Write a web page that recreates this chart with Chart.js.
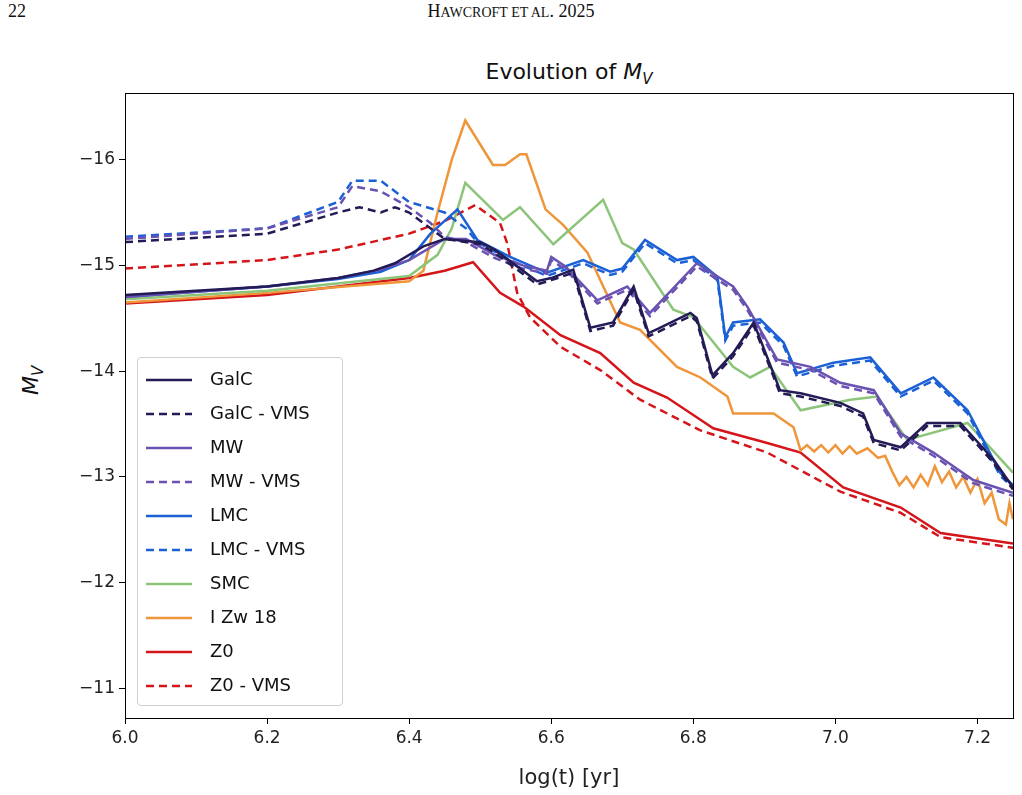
<!DOCTYPE html>
<html>
<head>
<meta charset="utf-8">
<script src="https://cdn.jsdelivr.net/npm/chart.js@4.4.0/dist/chart.umd.min.js"></script>
<style>
  body { margin: 0; background: #fff; width: 1022px; height: 795px; position: relative; overflow: hidden; }
  #wrap { position: absolute; left: 0; top: 0; width: 1022px; height: 795px; }
  .hdr { position: absolute; top: 1px; font-family: "Liberation Serif", "DejaVu Serif", serif; font-size: 18px; color: #111; }
  #title { position: absolute; top: 59px; left: 0; width: 1138px; text-align: center; font-family: "DejaVu Sans", sans-serif; font-size: 22px; color: #111; }
  #ytitle { position: absolute; left: 18px; top: 395px; transform: rotate(-90deg); transform-origin: left top; font-family: "DejaVu Sans", sans-serif; font-size: 22px; color: #111; }
  #legend { position: absolute; left: 137px; top: 357px; width: 204px; height: 347px; border: 1px solid #d0d0d0; border-radius: 4px; background: rgba(255,255,255,0.85); font-family: "DejaVu Sans", sans-serif; font-size: 18px; color: #111; }
  .item { position: absolute; left: 8px; height: 20px; }
  .item svg { position: absolute; left: 0; top: 0; }
  .item span { position: absolute; left: 64px; top: -2px; white-space: nowrap; }
</style>
</head>
<body>
<div class="hdr" style="left:8px;">22</div>
<div class="hdr" style="left:0;width:1022px;text-align:center;">H<span style="font-size:14px">AWCROFT ET AL</span>. 2025</div>
<div id="title">Evolution of <i>M</i><sub style="font-size:15px"><i>V</i></sub></div>
<div id="ytitle"><i>M</i><sub style="font-size:15px"><i>V</i></sub></div>
<div id="wrap"><canvas id="chart" width="1022" height="795"></canvas></div>
<div id="legend"></div>
<script>
const xTicks = [6.0, 6.2, 6.4, 6.6, 6.8, 7.0, 7.2];
const yTicks = [-16, -15, -14, -13, -12, -11];

const galcX = [6.0, 6.2, 6.3, 6.35, 6.38, 6.42, 6.45, 6.5, 6.52, 6.55, 6.58, 6.6, 6.631, 6.655, 6.687, 6.716, 6.737, 6.75, 6.796, 6.805, 6.827, 6.856, 6.885, 6.922, 6.951, 7.007, 7.039, 7.054, 7.092, 7.129, 7.176, 7.223, 7.25];
const galcY = [-14.72, -14.8, -14.88, -14.95, -15.02, -15.18, -15.25, -15.22, -15.15, -15.0, -14.85, -14.88, -14.96, -14.41, -14.46, -14.8, -14.36, -14.4, -14.55, -14.5, -13.96, -14.17, -14.46, -13.82, -13.79, -13.7, -13.6, -13.35, -13.28, -13.51, -13.51, -13.16, -12.9];
const galcVmsX = [6.0, 6.2, 6.3, 6.33, 6.36, 6.38, 6.4, 6.43, 6.45, 6.5, 6.52, 6.55, 6.58, 6.6, 6.631, 6.655, 6.687, 6.716, 6.737, 6.75, 6.796, 6.805, 6.827, 6.856, 6.885, 6.922, 6.951, 7.007, 7.039, 7.054, 7.092, 7.129, 7.176, 7.223, 7.25];
const galcVmsY = [-15.22, -15.3, -15.5, -15.55, -15.5, -15.55, -15.5, -15.35, -15.25, -15.2, -15.12, -14.97, -14.82, -14.86, -14.93, -14.38, -14.43, -14.77, -14.33, -14.37, -14.52, -14.47, -13.93, -14.14, -14.43, -13.79, -13.76, -13.67, -13.57, -13.32, -13.25, -13.48, -13.48, -13.13, -12.88];

const mwX = [6.0, 6.2, 6.3, 6.36, 6.4, 6.45, 6.48, 6.52, 6.56, 6.594, 6.6, 6.62, 6.665, 6.707, 6.739, 6.805, 6.856, 6.876, 6.918, 6.965, 7.007, 7.054, 7.092, 7.138, 7.194, 7.25];
const mwY = [-14.7, -14.8, -14.88, -14.96, -15.05, -15.25, -15.25, -15.1, -15.0, -14.95, -15.08, -14.99, -14.67, -14.8, -14.55, -15.02, -14.8, -14.61, -14.11, -14.04, -13.89, -13.82, -13.41, -13.23, -12.97, -12.85];
const mwVmsX = [6.0, 6.2, 6.3, 6.32, 6.36, 6.4, 6.43, 6.45, 6.48, 6.52, 6.56, 6.594, 6.6, 6.62, 6.665, 6.707, 6.739, 6.805, 6.856, 6.876, 6.918, 6.965, 7.007, 7.054, 7.092, 7.138, 7.194, 7.25];
const mwVmsY = [-15.25, -15.35, -15.55, -15.75, -15.7, -15.55, -15.4, -15.27, -15.22, -15.07, -14.97, -14.92, -15.05, -14.96, -14.64, -14.77, -14.52, -14.99, -14.77, -14.58, -14.08, -14.01, -13.86, -13.79, -13.38, -13.2, -12.94, -12.82];

const lmcX = [6.0, 6.2, 6.3, 6.36, 6.4, 6.43, 6.468, 6.496, 6.542, 6.594, 6.645, 6.683, 6.7, 6.732, 6.777, 6.8, 6.834, 6.845, 6.856, 6.894, 6.927, 6.946, 6.997, 7.049, 7.092, 7.138, 7.186, 7.232, 7.25];
const lmcY = [-14.7, -14.8, -14.87, -14.94, -15.05, -15.3, -15.53, -15.24, -15.08, -14.93, -15.05, -14.94, -14.97, -15.24, -15.05, -15.08, -14.89, -14.32, -14.46, -14.49, -14.27, -13.98, -14.08, -14.13, -13.79, -13.94, -13.63, -13.04, -12.92];
const lmcVmsX = [6.0, 6.2, 6.3, 6.32, 6.36, 6.4, 6.45, 6.48, 6.496, 6.542, 6.594, 6.645, 6.683, 6.7, 6.732, 6.777, 6.8, 6.834, 6.845, 6.856, 6.894, 6.927, 6.946, 6.997, 7.049, 7.092, 7.138, 7.186, 7.232, 7.25];
const lmcVmsY = [-15.27, -15.35, -15.6, -15.8, -15.8, -15.6, -15.5, -15.35, -15.22, -15.05, -14.9, -15.02, -14.91, -14.94, -15.21, -15.02, -15.05, -14.86, -14.29, -14.43, -14.46, -14.24, -13.95, -14.05, -14.1, -13.76, -13.91, -13.6, -13.01, -12.9];

const smcX = [6.0, 6.2, 6.4, 6.42, 6.44, 6.46, 6.479, 6.532, 6.556, 6.603, 6.673, 6.7, 6.716, 6.772, 6.8, 6.856, 6.88, 6.908, 6.951, 7.021, 7.059, 7.101, 7.186, 7.25];
const smcY = [-14.68, -14.76, -14.9, -15.0, -15.1, -15.35, -15.78, -15.43, -15.55, -15.2, -15.62, -15.21, -15.15, -14.58, -14.51, -14.04, -13.94, -14.04, -13.63, -13.73, -13.76, -13.35, -13.51, -13.04];

const izwX = [6.0, 6.2, 6.4, 6.42, 6.44, 6.46, 6.479, 6.518, 6.535, 6.556, 6.565, 6.592, 6.617, 6.651, 6.697, 6.725, 6.777, 6.81, 6.848, 6.856, 6.913, 6.941, 6.951, 6.96, 6.97, 6.98, 6.99, 7.0, 7.01, 7.02, 7.03, 7.045, 7.06, 7.07, 7.08, 7.09, 7.1, 7.11, 7.12, 7.13, 7.14, 7.15, 7.16, 7.17, 7.18, 7.19, 7.2, 7.21, 7.22, 7.23, 7.24, 7.245, 7.25];
const izwY = [-14.65, -14.74, -14.85, -14.95, -15.5, -16.0, -16.37, -15.95, -15.95, -16.05, -16.05, -15.53, -15.38, -15.12, -14.46, -14.39, -14.04, -13.94, -13.76, -13.6, -13.6, -13.47, -13.25, -13.3, -13.24, -13.3, -13.23, -13.3, -13.22, -13.29, -13.22, -13.27, -13.18, -13.2, -13.05, -12.92, -13.0, -12.9, -13.02, -12.92, -13.1, -12.95, -13.05, -12.9, -13.0, -12.85, -12.98, -12.75, -12.85, -12.6, -12.55, -12.75, -12.6];

const z0X = [6.0, 6.2, 6.3, 6.4, 6.45, 6.49, 6.528, 6.561, 6.613, 6.669, 6.716, 6.763, 6.81, 6.828, 6.904, 6.951, 7.011, 7.092, 7.148, 7.25];
const z0Y = [-14.64, -14.72, -14.8, -14.88, -14.95, -15.03, -14.74, -14.61, -14.34, -14.17, -13.89, -13.75, -13.54, -13.46, -13.32, -13.23, -12.9, -12.71, -12.47, -12.37];
const z0VmsX = [6.0, 6.2, 6.3, 6.4, 6.45, 6.493, 6.528, 6.538, 6.552, 6.57, 6.613, 6.669, 6.725, 6.81, 6.904, 7.007, 7.092, 7.148, 7.25];
const z0VmsY = [-14.97, -15.05, -15.15, -15.3, -15.42, -15.57, -15.4, -15.21, -14.74, -14.51, -14.23, -14.01, -13.73, -13.44, -13.23, -12.86, -12.66, -12.43, -12.33];

const colors = { galc: '#231b55', mw: '#6a52b2', lmc: '#1c60d6', smc: '#8cc57a', izw: '#ef953a', z0: '#d4151a' };
const dash = [8, 5];

const toPoints = (xs, ys) => xs.map((x, i) => ({ x: x, y: ys[i] }));

const series = [
  { label: 'GalC', x: galcX, y: galcY, color: colors.galc, dashed: false },
  { label: 'GalC - VMS', x: galcVmsX, y: galcVmsY, color: colors.galc, dashed: true },
  { label: 'MW', x: mwX, y: mwY, color: colors.mw, dashed: false },
  { label: 'MW - VMS', x: mwVmsX, y: mwVmsY, color: colors.mw, dashed: true },
  { label: 'LMC', x: lmcX, y: lmcY, color: colors.lmc, dashed: false },
  { label: 'LMC - VMS', x: lmcVmsX, y: lmcVmsY, color: colors.lmc, dashed: true },
  { label: 'SMC', x: smcX, y: smcY, color: colors.smc, dashed: false },
  { label: 'I Zw 18', x: izwX, y: izwY, color: colors.izw, dashed: false },
  { label: 'Z0', x: z0X, y: z0Y, color: colors.z0, dashed: false },
  { label: 'Z0 - VMS', x: z0VmsX, y: z0VmsY, color: colors.z0, dashed: true }
];

const datasets = series.map((s) => ({
  label: s.label,
  data: toPoints(s.x, s.y),
  borderColor: s.color,
  borderWidth: 2.5,
  borderDash: s.dashed ? dash : [],
  pointRadius: 0,
  tension: 0,
  fill: false
}));

// frame around the plot area
const framePlugin = {
  id: 'frame',
  afterDraw(chart) {
    const a = chart.chartArea;
    const ctx = chart.ctx;
    ctx.save();
    ctx.strokeStyle = '#000';
    ctx.lineWidth = 1;
    ctx.strokeRect(a.left + 0.5, a.top + 0.5, a.right - a.left, a.bottom - a.top);
    ctx.restore();
  }
};

const tickFont = { family: 'DejaVu Sans', size: 17 };
const minus = (v) => (v < 0 ? '\u2212' : '') + Math.abs(v);

new Chart(document.getElementById('chart').getContext('2d'), {
  type: 'line',
  data: { datasets: datasets },
  options: {
    responsive: false,
    animation: false,
    layout: { padding: { top: 93, right: 9, left: 0, bottom: 0 } },
    plugins: { legend: { display: false }, tooltip: { enabled: false } },
    scales: {
      x: {
        type: 'linear',
        min: 6.0,
        max: 7.25,
        afterBuildTicks: (scale) => { scale.ticks = xTicks.map((v) => ({ value: v })); },
        afterFit: (scale) => { scale.height = 77; },
        ticks: { font: tickFont, color: '#222', padding: 4, callback: (v) => v.toFixed(1) },
        grid: { display: true, drawOnChartArea: false, tickLength: 6, color: '#000' },
        border: { color: '#000' },
        title: { display: true, text: 'log(t) [yr]', font: { family: 'DejaVu Sans', size: 21 }, color: '#222', padding: { top: 0 } }
      },
      y: {
        type: 'linear',
        reverse: true,
        min: -16.63,
        max: -10.72,
        afterBuildTicks: (scale) => { scale.ticks = yTicks.map((v) => ({ value: v })); },
        afterFit: (scale) => { scale.width = 125; },
        ticks: { font: tickFont, color: '#222', padding: 4, callback: minus },
        grid: { display: true, drawOnChartArea: false, tickLength: 6, color: '#000' },
        border: { color: '#000' }
      }
    }
  },
  plugins: [framePlugin]
});

// legend inside the axes
const legendEl = document.getElementById('legend');
series.forEach((s, i) => {
  const item = document.createElement('div');
  item.className = 'item';
  item.style.top = (12 + i * 34) + 'px';
  item.innerHTML = '<svg width="50" height="20"><line x1="0" y1="10" x2="46" y2="10" stroke="' + s.color +
    '" stroke-width="2.5"' + (s.dashed ? ' stroke-dasharray="8,5"' : '') + '/></svg><span>' + s.label + '</span>';
  legendEl.appendChild(item);
});
</script>
</body>
</html>
